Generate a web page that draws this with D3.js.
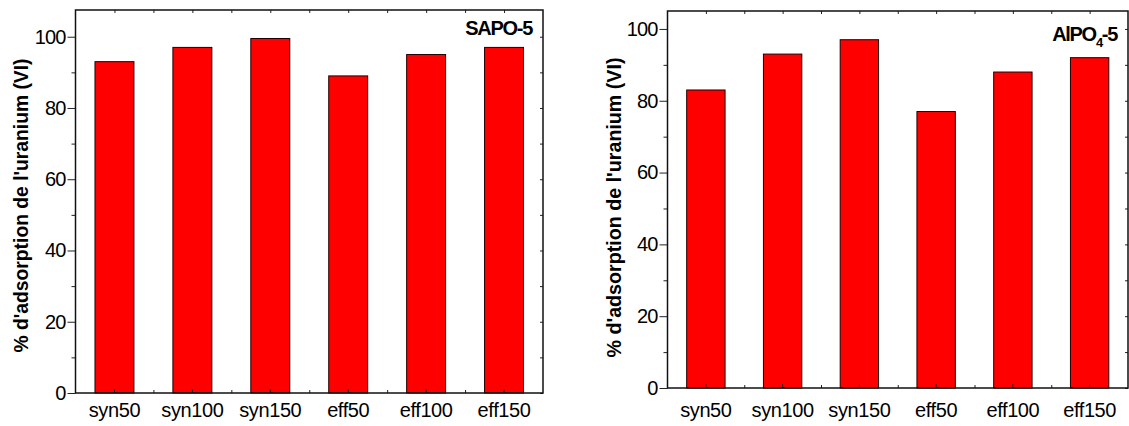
<!DOCTYPE html>
<html>
<head>
<meta charset="utf-8">
<script src="https://cdn.jsdelivr.net/npm/d3@7"></script>
<style>
  html, body { margin: 0; padding: 0; background: #fff; }
  svg { display: block; }
  text { font-family: "Liberation Sans", Arial, sans-serif; fill: #000; }
</style>
</head>
<body>
<svg id="chart" width="1129" height="426"></svg>
<script>
// Uranium(VI) adsorption for each sample, two materials
const categories = ["syn50", "syn100", "syn150", "eff50", "eff100", "eff150"];
const sapoValues = [93, 97, 99.5, 89, 95, 97];
const alpoValues = [83, 93, 97, 77, 88, 92];
const yTicks = [0, 20, 40, 60, 80, 100];
const yMinorTicks = [10, 30, 50, 70, 90];
const yAxisTitle = "% d'adsorption de l'uranium (VI)";

const svg = d3.select("#chart");

function drawPanel(opts) {
  const { left, right, top, bottom, yMax, values, label, labelY } = opts;
  const g = svg.append("g");

  const x = d3.scaleBand()
    .domain(categories)
    .range([left, right])
    .paddingInner(0.5)
    .paddingOuter(0.25);

  const y = d3.scaleLinear().domain([0, yMax]).range([bottom, top]);

  // bars
  g.selectAll("rect.bar")
    .data(values)
    .join("rect")
    .attr("class", "bar")
    .attr("x", (d, i) => x(categories[i]))
    .attr("width", x.bandwidth())
    .attr("y", d => y(d))
    .attr("height", d => y(0) - y(d))
    .attr("fill", "#ff0000")
    .attr("stroke", "#200000")
    .attr("stroke-width", 1);

  // minor x positions halfway between categories
  const centers = categories.map(c => x(c) + x.bandwidth() / 2);
  const mids = centers.slice(1).map((c, i) => (c + centers[i]) / 2);
  const xLin = d3.scaleLinear().domain([left, right]).range([left, right]);

  // bottom axis: labels + inward ticks
  const bottomAxis = g.append("g")
    .attr("transform", `translate(0,${bottom})`)
    .call(d3.axisBottom(x).tickSizeInner(-4).tickSizeOuter(0).tickPadding(opts.xPad));
  bottomAxis.select(".domain").remove();
  bottomAxis.selectAll("text")
    .style("font-size", "20px")
    .style("letter-spacing", "-0.4px")
    .style("font-family", "'Liberation Sans', Arial, sans-serif");
  bottomAxis.selectAll("line").attr("stroke", "#222");

  const bottomMinor = g.append("g")
    .attr("transform", `translate(0,${bottom})`)
    .call(d3.axisBottom(xLin).tickValues(mids).tickSizeInner(-3).tickSizeOuter(0).tickFormat(""));
  bottomMinor.select(".domain").remove();
  bottomMinor.selectAll("line").attr("stroke", "#222");

  // top axis: inward ticks only
  const topAxis = g.append("g")
    .attr("transform", `translate(0,${top})`)
    .call(d3.axisTop(xLin).tickValues(centers.concat(mids)).tickSizeInner(-3).tickSizeOuter(0).tickFormat(""));
  topAxis.select(".domain").remove();
  topAxis.selectAll("line").attr("stroke", "#222");

  // left axis: outward major ticks with labels, outward minor ticks
  const leftAxis = g.append("g")
    .attr("transform", `translate(${left},0)`)
    .call(d3.axisLeft(y).tickValues(yTicks).tickSizeInner(8).tickSizeOuter(0).tickPadding(2));
  leftAxis.select(".domain").remove();
  leftAxis.selectAll("text")
    .style("font-size", "20px")
    .style("letter-spacing", "-0.9px")
    .style("font-family", "'Liberation Sans', Arial, sans-serif");
  leftAxis.selectAll("line").attr("stroke", "#222");

  const leftMinor = g.append("g")
    .attr("transform", `translate(${left},0)`)
    .call(d3.axisLeft(y).tickValues(yMinorTicks).tickSizeInner(4).tickSizeOuter(0).tickFormat(""));
  leftMinor.select(".domain").remove();
  leftMinor.selectAll("line").attr("stroke", "#222");

  // right axis: inward ticks only
  const rightAxis = g.append("g")
    .attr("transform", `translate(${right},0)`)
    .call(d3.axisRight(y).tickValues(yTicks.concat(yMinorTicks)).tickSizeInner(-3).tickSizeOuter(0).tickFormat(""));
  rightAxis.select(".domain").remove();
  rightAxis.selectAll("line").attr("stroke", "#222");

  // frame
  g.append("rect")
    .attr("x", left)
    .attr("y", top)
    .attr("width", right - left)
    .attr("height", bottom - top)
    .attr("fill", "none")
    .attr("stroke", "#111")
    .attr("stroke-width", 1.5);

  // y axis title
  const cy = (top + bottom) / 2 + opts.titleShift;
  g.append("text")
    .attr("transform", `translate(${opts.titleX},${cy}) rotate(-90)`)
    .attr("text-anchor", "middle")
    .style("font-weight", "bold")
    .style("font-size", "20px")
    .attr("textLength", opts.titleLength)
    .attr("lengthAdjust", "spacingAndGlyphs")
    .text(yAxisTitle);

  // material label
  const t = g.append("text")
    .attr("x", right - 11)
    .attr("y", labelY)
    .attr("text-anchor", "end")
    .style("font-weight", "bold")
    .style("font-size", "20px")
    .style("letter-spacing", "-1.3px");
  label.forEach(part => {
    const span = t.append("tspan").text(part.text);
    if (part.sub) span.style("font-size", "13px").attr("dy", 6);
    if (part.after) span.attr("dy", -6);
  });
}

drawPanel({
  left: 75.5, right: 543, top: 10, bottom: 393, yMax: 107.5,
  values: sapoValues,
  label: [{ text: "SAPO-5" }],
  labelY: 34.5,
  titleX: 28, titleShift: 4, titleLength: 294,
  xPad: 10
});

drawPanel({
  left: 667.5, right: 1128, top: 11, bottom: 388, yMax: 105,
  values: alpoValues,
  label: [{ text: "AlPO" }, { text: "4", sub: true }, { text: "-5", after: true }],
  labelY: 40.5,
  titleX: 621, titleShift: 8, titleLength: 300,
  xPad: 15
});
</script>
</body>
</html>
